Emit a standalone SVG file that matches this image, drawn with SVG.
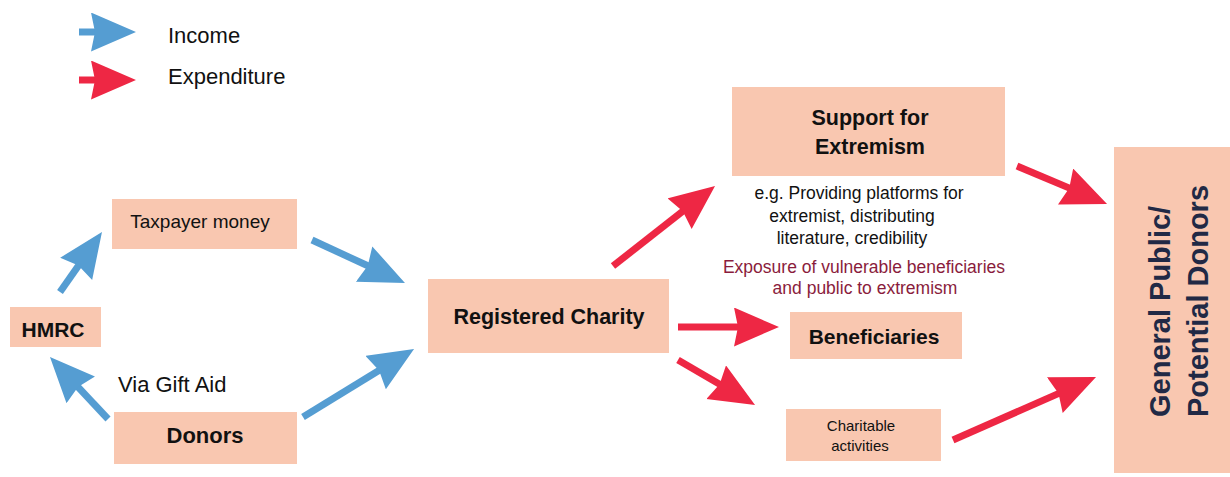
<svg xmlns="http://www.w3.org/2000/svg" width="1230" height="477" viewBox="0 0 1230 477">
<style>
.box{fill:#f9c7b0}
.t{font-family:"Liberation Sans",Arial,sans-serif;fill:#111}
.b{font-weight:bold}
.in{stroke:#559dd2;stroke-width:7;fill:none}
.ex{stroke:#ee2744;stroke-width:7;fill:none}
.note{fill:#8a1c3c}
.gp{fill:#212945}
</style>
<defs>
<marker id="hb" markerUnits="userSpaceOnUse" markerWidth="50" markerHeight="42" refX="10" refY="19.5" orient="auto">
<path d="M0,0 L45,19.5 L0,39 L4,19.5 Z" fill="#559dd2"/>
</marker>
<marker id="hr" markerUnits="userSpaceOnUse" markerWidth="50" markerHeight="42" refX="10" refY="19.5" orient="auto">
<path d="M0,0 L45,19.5 L0,39 L4,19.5 Z" fill="#ee2744"/>
</marker>
</defs>
<rect width="1230" height="477" fill="#fff"/>

<g id="legend">
<line class="in" x1="79" y1="32" x2="101" y2="32" marker-end="url(#hb)"/>
<line class="ex" x1="79" y1="80" x2="101" y2="80" marker-end="url(#hr)"/>
<text class="t" x="168" y="43" font-size="22">Income</text>
<text class="t" x="168" y="84" font-size="22">Expenditure</text>
</g>

<g id="connectors">
<line class="in" x1="60" y1="292" x2="81.9" y2="260.7" marker-end="url(#hb)"/>
<line class="in" x1="312" y1="240" x2="373.2" y2="268.3" marker-end="url(#hb)"/>
<line class="in" x1="108" y1="419" x2="73.9" y2="382.6" marker-end="url(#hb)"/>
<line class="in" x1="303" y1="417" x2="384.2" y2="367.3" marker-end="url(#hb)"/>
<line class="ex" x1="613" y1="266" x2="687.5" y2="207.6" marker-end="url(#hr)"/>
<line class="ex" x1="1017" y1="166" x2="1074.8" y2="190.4" marker-end="url(#hr)"/>
<line class="ex" x1="953" y1="440" x2="1064" y2="391.1" marker-end="url(#hr)"/>
<line class="ex" x1="678" y1="327" x2="744" y2="327" marker-end="url(#hr)"/>
<line class="ex" x1="678" y1="360" x2="724.8" y2="387.3" marker-end="url(#hr)"/>
<text class="t" x="118" y="392" font-size="22">Via Gift Aid</text>
</g>

<g id="taxpayer">
<rect class="box" x="112" y="199" width="185" height="50"/>
<text class="t" x="200" y="228" font-size="19" text-anchor="middle">Taxpayer money</text>
</g>

<g id="hmrc">
<rect class="box" x="10" y="307" width="91" height="40"/>
<text class="t b" x="53" y="337" font-size="21" text-anchor="middle">HMRC</text>
</g>

<g id="donors">
<rect class="box" x="114" y="412" width="183" height="52"/>
<text class="t b" x="205" y="443" font-size="22" text-anchor="middle">Donors</text>
</g>

<g id="charity">
<rect class="box" x="428" y="279" width="241" height="74"/>
<text class="t b" x="549" y="324" font-size="21.5" text-anchor="middle">Registered Charity</text>
</g>

<g id="support">
<rect class="box" x="732" y="87" width="273" height="89"/>
<text class="t b" x="870" y="125" font-size="21.5" text-anchor="middle">Support for</text>
<text class="t b" x="870" y="154" font-size="21.5" text-anchor="middle">Extremism</text>
<text class="t" x="859" y="199" font-size="17.5" text-anchor="middle">e.g. Providing platforms for</text>
<text class="t" x="852" y="222" font-size="17.5" text-anchor="middle">extremist, distributing</text>
<text class="t" x="852" y="244" font-size="17.5" text-anchor="middle">literature, credibility</text>
<text class="t note" x="864" y="273" font-size="17.5" text-anchor="middle">Exposure of vulnerable beneficiaries</text>
<text class="t note" x="865" y="294" font-size="17.5" text-anchor="middle">and public to extremism</text>
</g>

<g id="beneficiaries">
<rect class="box" x="790" y="312" width="172" height="47"/>
<text class="t b" x="874" y="344" font-size="21" text-anchor="middle">Beneficiaries</text>
</g>

<g id="activities">
<rect class="box" x="786" y="409" width="155" height="52"/>
<text class="t" x="861" y="431" font-size="15" text-anchor="middle">Charitable</text>
<text class="t" x="860" y="451" font-size="15" text-anchor="middle">activities</text>
</g>

<g id="public">
<rect class="box" x="1114" y="147" width="116" height="326"/>
<text class="t b gp" transform="translate(1170,417) rotate(-90)" font-size="29">General Public/</text>
<text class="t b gp" transform="translate(1208,417) rotate(-90)" font-size="29">Potential Donors</text>
</g>
</svg>
